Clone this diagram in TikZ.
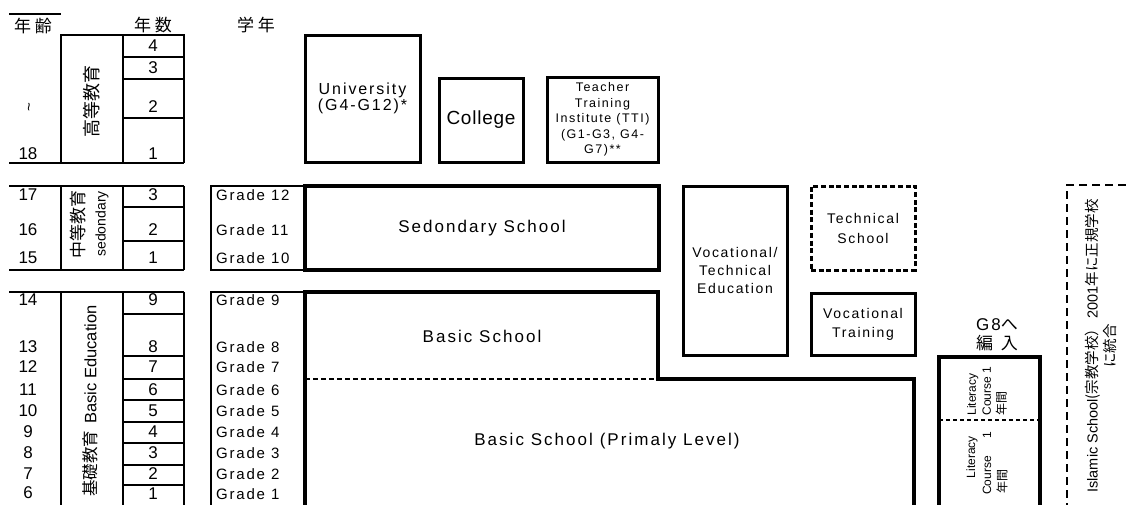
\documentclass[tikz,border=0pt]{standalone}
\usepackage{fontspec}
\setmainfont{Liberation Sans}
\newfontfamily\lsp[LetterSpace=12]{Liberation Sans}
\newfontfamily\lspb[LetterSpace=4]{Liberation Sans}
\newfontfamily\jp{Noto Sans CJK JP}
\newfontfamily\jpsp[LetterSpace=22]{Noto Sans CJK JP}
\newcommand{\fsz}[2]{\fontsize{#1}{#2}\selectfont}
\begin{document}
\begin{tikzpicture}[x=1pt,y=-1pt,
  tbl/.style={line width=2.6pt},
  thinln/.style={line width=1.2pt},
  heavy/.style={line width=3.6pt},
  hd/.style={inner sep=0pt, font=\jpsp\fsz{17}{20}},
  num/.style={inner sep=0pt, font=\fsz{17}{19}},
  grade/.style={inner sep=0pt, anchor=west, font=\lsp\fsz{15}{18}},
  box/.style={draw, line width=3pt, inner sep=0pt, align=center},
  lbl/.style={inner sep=0pt, align=center, font=\lsp\fsz{17}{20}},
  rot/.style={inner sep=0pt, rotate=90},
  dashbig/.style={line width=2.8pt, dash pattern=on 8pt off 5pt},
]
\useasboundingbox (0,0) rectangle (1126,504);

% headers
\draw[tbl] (9,14) -- (61,14);
\node[hd] (hAge) at (33,26) {年齢};
\node[hd] (hYrs) at (153,25) {年数};
\node[hd] (hGr) at (256,25) {学年};

% higher education table
\draw[tbl] (61,163) -- (61,35) -- (184,35) -- (184,163);
\draw[tbl] (123,35) -- (123,163);
\draw[tbl] (123,57) -- (184,57);
\draw[tbl] (123,79) -- (184,79);
\draw[tbl] (123,118) -- (184,118);
\draw[tbl] (9,163) -- (184,163);
\node[num] (hy4) at (153,46) {4};
\node[num] (hy3) at (153,68) {3};
\node[num] (hy2) at (153,107) {2};
\node[num] (hy1) at (153,154) {1};
\node[rot, font=\fsz{15}{16}] (tilde) at (31,107) {\textasciitilde};
\node[num] (a18) at (28,154) {18};
\node[rot, font=\jp\fsz{18}{20}] (koto) at (92,101) {高等教育};

% secondary table
\draw[tbl] (9,186) -- (184,186);
\draw[tbl] (9,270) -- (184,270);
\draw[tbl] (61,186) -- (61,270);
\draw[tbl] (123,186) -- (123,270);
\draw[tbl] (184,186) -- (184,270);
\draw[line width=1.8pt] (123,207) -- (184,207);
\draw[tbl] (123,241) -- (184,241);
\node[num] (a17) at (28,195) {17};
\node[num] (a16) at (28,230) {16};
\node[num] (a15) at (28,258) {15};
\node[num] (sy3) at (153,195) {3};
\node[num] (sy2) at (153,230) {2};
\node[num] (sy1) at (153,258) {1};
\node[rot, font=\jp\fsz{17}{18}] (chuto) at (78,224) {中等教育};
\node[rot, font=\fsz{14}{16}] (sedo) at (102,224) {sedondary};

% grade box secondary
\draw[thinln] (305,186) -- (211,186) -- (211,270) -- (305,270);
\node[grade] (g12) at (216,195) {Grade 12};
\node[grade] (g11) at (216,230) {Grade 11};
\node[grade] (g10) at (216,258) {Grade 10};

% secondary school
\node[box, line width=3.6pt, minimum width=354pt, minimum height=84pt, font=\lsp\fsz{17}{20}] (sec) at (482,228) {Sedondary School};

% basic table
\draw[tbl] (9,292) -- (184,292);
\draw[tbl] (61,292) -- (61,505);
\draw[tbl] (123,292) -- (123,505);
\draw[tbl] (184,292) -- (184,505);
\foreach \yy in {314,356,379,400,422,443,465,485}
  \draw[tbl] (123,\yy) -- (184,\yy);
\node[num] (a14) at (28,300) {14};
\node[num] (a13) at (28,347) {13};
\node[num] (a12) at (28,367) {12};
\node[num] (a11) at (28,390) {11};
\node[num] (a10) at (28,411) {10};
\node[num] (a9) at (28,432) {9};
\node[num] (a8) at (28,453) {8};
\node[num] (a7) at (28,474) {7};
\node[num] (a6) at (28,493) {6};
\node[num] (by9) at (153,300) {9};
\node[num] (by8) at (153,347) {8};
\node[num] (by7) at (153,367) {7};
\node[num] (by6) at (153,390) {6};
\node[num] (by5) at (153,411) {5};
\node[num] (by4) at (153,432) {4};
\node[num] (by3) at (153,453) {3};
\node[num] (by2) at (153,474) {2};
\node[num] (by1) at (153,494) {1};
\node[rot, font=\fsz{16.5}{18}] (kiso) at (90,401) {{\jp 基礎教育}\hspace{7pt}Basic Education};

% grade box basic
\draw[thinln] (305,292) -- (211,292) -- (211,505);
\node[grade] (g9) at (216,300) {Grade 9};
\node[grade] (g8) at (216,347) {Grade 8};
\node[grade] (g7) at (216,367) {Grade 7};
\node[grade] (g6) at (216,390) {Grade 6};
\node[grade] (g5) at (216,411) {Grade 5};
\node[grade] (g4) at (216,432) {Grade 4};
\node[grade] (g3) at (216,453) {Grade 3};
\node[grade] (g2) at (216,474) {Grade 2};
\node[grade] (g1) at (216,494) {Grade 1};

% basic school
\draw[heavy] (305,506) -- (305,292) -- (658,292) -- (658,379) -- (914,379) -- (914,506);
\draw[line width=1.6pt, dash pattern=on 5pt off 3pt] (305,379) -- (658,379);
\node[lbl] (basic) at (482,336) {Basic School};
\node[lbl] (prim) at (607,441) {Basic School (Primaly Level)};

% higher institutions
\node[box, minimum width=115pt, minimum height=127pt, font=\lsp\fsz{16}{14}] (univ) at (362.5,98.5) {University\\(G4-G12)*};
\node[box, minimum width=84pt, minimum height=84pt, font=\lspb\fsz{19}{22}] (coll) at (481,120) {College};
\node[box, minimum width=111pt, minimum height=85pt, font=\lsp\fsz{12.5}{15.5}] (tti) at (602.5,119.5) {Teacher\\Training\\Institute (TTI)\\(G1-G3, G4-\\G7)**};

% vocational
\node[box, minimum width=104pt, minimum height=169pt, font=\lsp\fsz{14}{18}] (vte) at (735,270.5) {Vocational/\\Technical\\Education};
\node[box, line width=3pt, dash pattern=on 5pt off 2.7pt, minimum width=104pt, minimum height=84pt, font=\lsp\fsz{14}{20}] (tech) at (863,228) {Technical\\School};
\node[box, minimum width=104pt, minimum height=62pt, font=\lsp\fsz{14}{19}] (vtr) at (863,324) {Vocational\\Training};

% literacy
\draw[heavy] (939,506) -- (939,357) -- (1040,357) -- (1040,506);
\draw[line width=2.2pt, dash pattern=on 4pt off 3pt] (939,420) -- (1040,420);
\node[inner sep=0pt, font=\lsp\fsz{17}{20}] (g8to) at (997,325) {G8{\jp へ}};
\node[inner sep=0pt, font=\jpsp\fsz{17}{20}] (hennyu) at (997,343) {編 入};
\node[rot, align=left, font=\fsz{12}{15}] (lit1) at (987,391) {Literacy\\Course 1\\{\jp 年間}};
\node[rot, font=\fsz{12}{13}] (lit2a) at (972,457) {Literacy};
\node[rot, font=\fsz{12}{13}] (lit2b) at (987,463) {Course\hspace{18pt}1};
\node[rot, font=\jp\fsz{12}{13}] (lit2c) at (1002,481) {年間};

% islamic school
\draw[dashbig] (1126,185) -- (1067,185) -- (1067,506);
\node[rot, align=center, font=\fsz{14.5}{18}] (isl) at (1101,346) {Islamic School{\jp (宗教学校）}\hspace{3pt}2001{\jp 年に正規学校}\\{\jp に統合}};
\end{tikzpicture}
\end{document}
